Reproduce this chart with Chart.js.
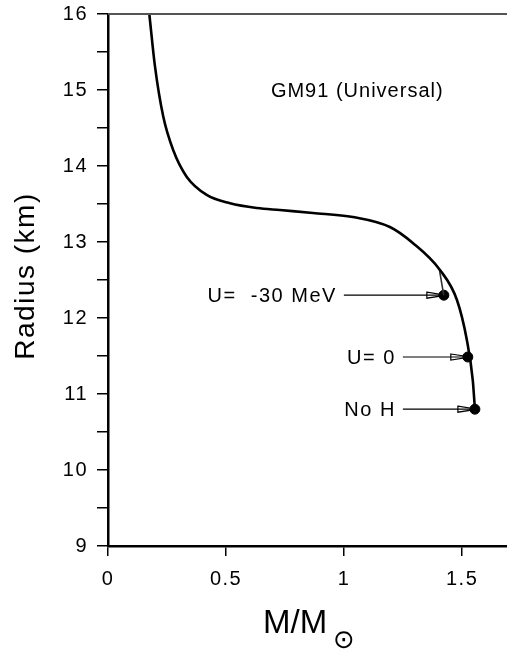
<!DOCTYPE html>
<html>
<head>
<meta charset="utf-8">
<script src="https://cdn.jsdelivr.net/npm/chart.js@4.4.0/dist/chart.umd.min.js"></script>
<style>
  html, body { margin: 0; padding: 0; background: #fff; }
  #wrap { width: 507px; height: 651px; }
</style>
</head>
<body>
<div id="wrap"><canvas id="c" width="507" height="651"></canvas></div>
<script>
// mass-radius curve
const mass   = [0.175, 0.199, 0.234, 0.276, 0.333, 0.418, 0.517, 0.631, 0.728, 0.868, 1.037, 1.194, 1.291, 1.406, 1.478, 1.520, 1.545, 1.554];
const radius = [16.0, 15.31, 14.65, 14.21, 13.86, 13.62, 13.51, 13.447, 13.42, 13.382, 13.329, 13.197, 12.987, 12.632, 12.237, 11.711, 11.184, 10.803];

// small side branch ending at the U=-30 MeV point
const branchMass   = [1.404, 1.422];
const branchRadius = [12.63, 12.30];

// end points of the three models
const markerLabels = ['U=  -30 MeV', 'U= 0', 'No H'];
const markerMass   = [1.4225, 1.524, 1.554];
const markerRadius = [12.30, 11.487, 10.80];
const arrowStart   = [0.999, 1.249, 1.249];

const xTicks = [0, 0.5, 1, 1.5];
const yMin = 9, yMax = 16;

const FONT = '"Liberation Sans", Arial, sans-serif';

const arrowSets = markerLabels.map((lab, i) => ({
  label: 'arrow ' + lab,
  data: [{ x: arrowStart[i], y: markerRadius[i] }, { x: markerMass[i] - 0.015, y: markerRadius[i] }],
  showLine: true,
  borderColor: '#000',
  borderWidth: 1.2,
  pointRadius: 0
}));

const spacing = {
  id: 'spacing',
  beforeDraw(chart) { chart.ctx.letterSpacing = '1.5px'; }
};

const annotations = {
  id: 'annotations',
  afterDraw(chart) {
    const { ctx, chartArea, scales } = chart;
    const xs = scales.x, ys = scales.y;
    ctx.save();
    // top frame line
    ctx.strokeStyle = '#555';
    ctx.lineWidth = 2;
    ctx.beginPath();
    ctx.moveTo(chartArea.left, chartArea.top);
    ctx.lineTo(chartArea.right, chartArea.top);
    ctx.stroke();

    // arrow heads
    ctx.strokeStyle = '#000';
    ctx.lineWidth = 1.2;
    markerMass.forEach((m, i) => {
      const tip = xs.getPixelForValue(m) - 4;
      const y = ys.getPixelForValue(markerRadius[i]);
      ctx.beginPath();
      ctx.moveTo(tip - 13, y - 3);
      ctx.lineTo(tip, y - 1);
      ctx.lineTo(tip, y + 1);
      ctx.lineTo(tip - 13, y + 3);
      ctx.closePath();
      ctx.stroke();
    });

    // model labels
    ctx.fillStyle = '#000';
    ctx.letterSpacing = '1.5px';
    ctx.font = '20px ' + FONT;
    ctx.textAlign = 'right';
    ctx.textBaseline = 'middle';
    markerLabels.forEach((lab, i) => {
      ctx.fillText(lab, xs.getPixelForValue(arrowStart[i]) - 7, ys.getPixelForValue(markerRadius[i]) + 1);
    });

    // EOS name
    ctx.textAlign = 'left';
    ctx.letterSpacing = '1px';
    ctx.fillText('GM91 (Universal)', xs.getPixelForValue(0.69), ys.getPixelForValue(14.98));

    // y title
    ctx.save();
    ctx.translate(26, 276);
    ctx.rotate(-Math.PI / 2);
    ctx.font = '28px ' + FONT;
    ctx.letterSpacing = '1.5px';
    ctx.textAlign = 'center';
    ctx.fillText('Radius (km)', 0, 0);
    ctx.restore();

    // x title with sun symbol
    ctx.letterSpacing = '0px';
    ctx.font = '33px ' + FONT;
    ctx.textAlign = 'left';
    ctx.textBaseline = 'alphabetic';
    ctx.fillText('M/M', 263, 633);
    ctx.font = '26px "DejaVu Sans", sans-serif';
    ctx.fillText('\u2299', 333, 648);
    ctx.restore();
  }
};

new Chart(document.getElementById('c'), {
  type: 'scatter',
  data: {
    datasets: [
      {
        label: 'GM91',
        data: mass.map((m, i) => ({ x: m, y: radius[i] })),
        showLine: true,
        borderColor: '#000',
        borderWidth: 2.6,
        cubicInterpolationMode: 'monotone',
        pointRadius: 0
      },
      {
        label: 'branch',
        data: branchMass.map((m, i) => ({ x: m, y: branchRadius[i] })),
        showLine: true,
        borderColor: '#333',
        borderWidth: 1.6,
        pointRadius: 0
      },
      ...arrowSets,
      {
        label: 'models',
        data: markerMass.map((m, i) => ({ x: m, y: markerRadius[i] })),
        pointRadius: 5,
        pointBackgroundColor: '#000',
        pointBorderColor: '#000'
      }
    ]
  },
  options: {
    responsive: false,
    animation: false,
    clip: false,
    layout: { autoPadding: false, padding: { top: 14, right: 0, left: 0, bottom: 0 } },
    plugins: {
      legend: { display: false },
      tooltip: { enabled: false }
    },
    scales: {
      x: {
        type: 'linear',
        min: 0,
        max: 1.69,
        afterFit(scale) {
          scale.height = 105;
          scale.paddingLeft = 0;
          scale.paddingRight = 0;
        },
        afterBuildTicks(scale) { scale.ticks = xTicks.map(v => ({ value: v })); },
        grid: {
          drawOnChartArea: false,
          drawTicks: true,
          tickLength: 10,
          color: '#000',
          lineWidth: 1.5
        },
        border: { display: true, color: '#000', width: 2.5 },
        ticks: {
          color: '#000',
          padding: 11,
          font: { family: FONT, size: 20 },
          callback: v => String(v)
        },
        title: { display: false }
      },
      y: {
        type: 'linear',
        min: yMin,
        max: yMax,
        afterFit(scale) {
          scale.width = 108;
          scale.paddingTop = 0;
          scale.paddingBottom = 0;
        },
        grid: {
          drawOnChartArea: false,
          drawTicks: true,
          tickLength: 11,
          color: '#000',
          lineWidth: 1.5
        },
        border: { display: true, color: '#000', width: 2.5 },
        ticks: {
          stepSize: 0.5,
          color: '#000',
          padding: 9,
          font: { family: FONT, size: 20 },
          callback: v => Number.isInteger(v) ? String(v) : ''
        },
        title: { display: false }
      }
    }
  },
  plugins: [spacing, annotations]
});
</script>
</body>
</html>
